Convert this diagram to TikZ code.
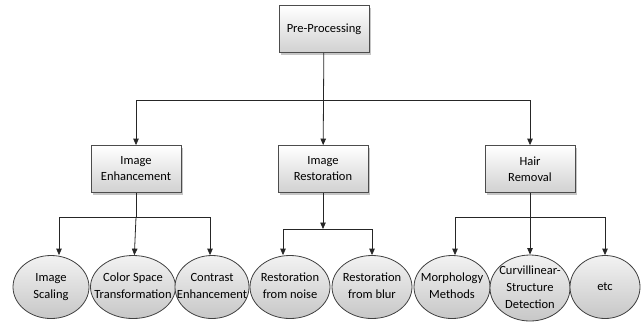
\documentclass[tikz,border=0pt]{standalone}
\usepackage{fontspec}
\setmainfont{Carlito}
\usetikzlibrary{arrows.meta}
\usetikzlibrary{shapes.geometric}
\usetikzlibrary{shadows}

\tikzset{
  box/.style={draw=black!70, line width=0.8pt, top color=white, bottom color=black!18,
    minimum width=90pt, minimum height=47pt, align=center, text=black,
    font=\fontsize{12.5}{16}\selectfont,
    drop shadow={shadow xshift=2pt, shadow yshift=-2pt, opacity=0.45}},
  oval/.style={ellipse, draw=black!75, line width=0.8pt, top color=black!5, bottom color=black!22,
    inner sep=0pt, minimum height=63pt, text=black, font=\fontsize{12.5}{17}\selectfont},
  arr/.style={-{Triangle[width=5.5pt,length=6.5pt]}, line width=0.8pt, draw=black!85},
  ln/.style={line width=0.8pt, draw=black!85}
}
% text of an oval, kept out of the oval's size
\newcommand{\otext}[1]{\makebox[0pt]{\raisebox{-3pt}[0pt][0pt]{\begin{tabular}{@{}c@{}}#1\end{tabular}}}}

\begin{document}
\begin{tikzpicture}[x=1pt, y=-1pt]
    \useasboundingbox (0,0) rectangle (644,322);
    \node[box] (0) at (324, 29) {Pre-Processing}; % root
    \node[box] (1) at (136, 169) {Image\\Enhancement};
    \node[box] (2) at (323, 169) {Image\\Restoration};
    \node[box] (3) at (530, 169) {Hair\\Removal};
    % leaves
    \node[oval, minimum width=76pt] (4) at (51, 287) {\otext{Image\\Scaling}};
    \node[oval, minimum width=85pt] (5) at (133, 287) {\otext{Color Space\\Transformation}};
    \node[oval, minimum width=74pt] (6) at (212, 287) {\otext{Contrast\\Enhancement}};
    \node[oval, minimum width=80pt] (7) at (290, 287) {\otext{Restoration\\from noise}};
    \node[oval, minimum width=80pt] (8) at (372, 287) {\otext{Restoration\\from blur}};
    \node[oval, minimum width=76pt] (9) at (452, 287) {\otext{Morphology\\Methods}};
    \node[oval, minimum width=80pt, minimum height=66pt] (10) at (530, 288) {\otext{Curvillinear-\\Structure\\Detection}};
    \node[oval, minimum width=70pt] (11) at (605, 287) {\otext{etc}};
    % buses
    \coordinate (12) at (324, 100);
    \coordinate (13) at (136, 217);
    \coordinate (14) at (323, 229);
    \coordinate (15) at (530, 217);
    % root to level one
    \draw[arr] (0) -- (2);
    \draw[arr] (12) -| (1);
    \draw[arr] (12) -| (3);
    % enhancement
    \draw[ln] (1) -- (13);
    \draw[arr] (13) -| ([xshift=8pt]4.north);
    \draw[arr] (13) -- (5);
    \draw[arr] (13) -| ([xshift=-2pt]6.north);
    % restoration
    \draw[arr] (2) -- (14);
    \draw[arr] (14) -| ([xshift=-7pt]7.north);
    \draw[arr] (14) -| (8);
    % hair removal
    \draw[ln] (3) -- (15);
    \draw[arr] (15) -| ([xshift=3pt]9.north);
    \draw[arr] (15) -- (10);
    \draw[arr] (15) -| (11);
\end{tikzpicture}
\end{document}
